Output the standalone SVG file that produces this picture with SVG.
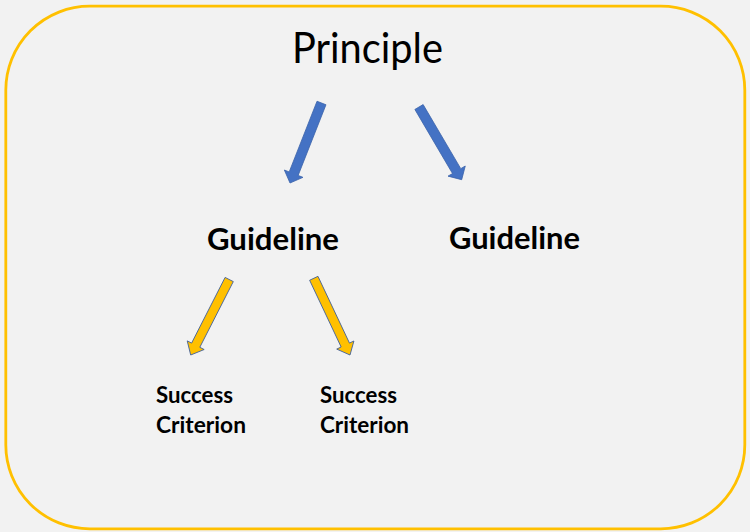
<svg xmlns="http://www.w3.org/2000/svg" width="750" height="532" viewBox="0 0 750 532">
  <style>
    .bg { fill: #F2F2F2; }
    .frame { fill: none; stroke: #FFC000; stroke-width: 2.8; }
    .t { font-family: Lato, "Open Sans", "Liberation Sans", sans-serif; fill: #000000; }
    .p { font-size: 43px; font-weight: 400; }
    .g { font-size: 30px; font-weight: 700; }
    .s { font-size: 22px; font-weight: 700; }
    .blue { fill: #4472C4; stroke: #3A62AA; stroke-width: 0.8; stroke-linejoin: miter; }
    .gold { fill: #FFC000; stroke: #3F5F98; stroke-width: 0.9; stroke-linejoin: miter; }
  </style>
  <rect class="bg" x="0" y="0" width="750" height="532"/>
  <rect id="frame" class="frame" x="5.8" y="6.2" width="739" height="522.6" rx="84" ry="84"/>

  <g id="connectors">
    <polygon id="arrow-principle-guideline1" class="blue" points="325.97,104.76 298.13,175.45 302.97,177.35 290,183 284.35,170.03 289.19,171.93 317.03,101.24"/>
    <polygon id="arrow-principle-guideline2" class="blue" points="423.14,104.57 460.77,168.65 465.25,166.01 461.7,179.7 448.01,176.15 452.49,173.51 414.86,109.43"/>
    <polygon id="arrow-guideline1-sc1" class="gold" points="233.30,281.59 199.80,347.29 204.16,349.52 190.7,355 187.24,340.88 191.60,343.11 225.10,277.41"/>
    <polygon id="arrow-guideline1-sc2" class="gold" points="317.96,276.34 349.47,343.09 353.90,341.00 350,355 336.72,349.10 341.15,347.01 309.64,280.26"/>
  </g>

  <g id="principle">
    <text class="t p" x="292" y="63" textLength="151" lengthAdjust="spacingAndGlyphs">Principle</text>
  </g>
  <g id="guideline1">
    <text class="t g" x="207" y="249.5" textLength="132" lengthAdjust="spacingAndGlyphs">Guideline</text>
  </g>
  <g id="guideline2">
    <text class="t g" x="449" y="249" textLength="131" lengthAdjust="spacingAndGlyphs">Guideline</text>
  </g>
  <g id="success-criterion1">
    <text class="t s" x="156" y="403" textLength="77" lengthAdjust="spacingAndGlyphs">Success</text>
    <text class="t s" x="156" y="433" textLength="90" lengthAdjust="spacingAndGlyphs">Criterion</text>
  </g>
  <g id="success-criterion2">
    <text class="t s" x="320" y="403" textLength="77" lengthAdjust="spacingAndGlyphs">Success</text>
    <text class="t s" x="320" y="433" textLength="89" lengthAdjust="spacingAndGlyphs">Criterion</text>
  </g>
</svg>
